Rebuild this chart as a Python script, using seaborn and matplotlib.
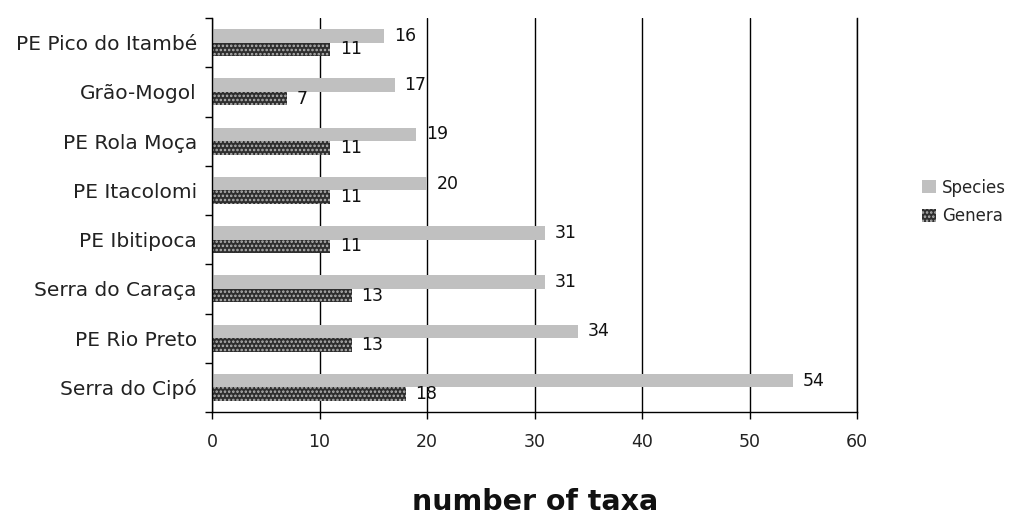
import numpy as np
import pandas as pd
import matplotlib
matplotlib.use("Agg")
import matplotlib.pyplot as plt
import seaborn as sns

sites = ["PE Pico do Itambé", "Grão-Mogol", "PE Rola Moça", "PE Itacolomi",
         "PE Ibitipoca", "Serra do Caraça", "PE Rio Preto", "Serra do Cipó"]
species = [16, 17, 19, 20, 31, 31, 34, 54]
genera = [11, 7, 11, 11, 11, 13, 13, 18]
series_names = ["Species", "Genera"]
x_ticks = [0, 10, 20, 30, 40, 50, 60]

df = pd.DataFrame({
    "site": sites * 2,
    "value": species + genera,
    "series": [series_names[0]] * len(sites) + [series_names[1]] * len(sites),
})

sns.set_theme(style="white")
plt.rcParams["font.family"] = ["DejaVu Sans"]
plt.rcParams["hatch.linewidth"] = 1.2

fig = plt.figure(figsize=(10.15, 5.14), dpi=100)
ax = fig.add_axes([0.2089, 0.1984, 0.6355, 0.7665])

sns.barplot(data=df, x="value", y="site", hue="series", order=sites,
            hue_order=series_names, orient="h", width=0.55, gap=0,
            palette=["#c0c0c0", "#2e2e2e"], saturation=1, ax=ax,
            linewidth=0, errorbar=None)

# dotted pattern on genera bars
for bar in ax.containers[1]:
    bar.set_hatch("....")
    bar.set_edgecolor("#b4b4b4")
    bar.set_linewidth(0)

for cont in ax.containers:
    ax.bar_label(cont, padding=7, fontsize=12.5, color="#111111")

ax.set_xlim(0, 60)
ax.set_ylim(len(sites) - 0.5, -0.5)
ax.set_xticks(x_ticks)
ax.set_xticklabels([str(t) for t in x_ticks], fontsize=12.5, color="#222222")
ax.tick_params(axis="x", which="major", direction="out", length=5, width=1,
               color="black", bottom=True, pad=10)
ax.set_yticks(range(len(sites)))
ax.set_yticklabels(sites, fontsize=14.5, color="#222222")
ax.tick_params(axis="y", which="major", length=0, pad=11)
ax.set_yticks(np.arange(-0.5, len(sites), 1.0), minor=True)
ax.tick_params(axis="y", which="minor", direction="out", length=5, width=1,
               color="black", left=True)

ax.grid(axis="x", color="black", linewidth=1)
ax.set_axisbelow(True)
ax.spines["top"].set_visible(False)
for side in ["left", "bottom", "right"]:
    ax.spines[side].set_visible(True)
    ax.spines[side].set_color("black")
    ax.spines[side].set_linewidth(1)

ax.set_ylabel("")
ax.set_xlabel("")
fig.text(0.527, 4 / 514, "number of taxa", fontsize=20.5, fontweight="bold",
         ha="center", va="baseline", color="#111111")

leg = ax.legend(loc="center left", bbox_to_anchor=(1.09, 0.533), frameon=False,
                fontsize=12, handlelength=0.85, handleheight=0.8,
                handletextpad=0.36, labelspacing=0.65, borderaxespad=0)
handles = leg.legend_handles
handles[1].set_hatch("....")
handles[1].set_edgecolor("#b4b4b4")
handles[1].set_linewidth(0)

fig.savefig("out.png", dpi=100)
